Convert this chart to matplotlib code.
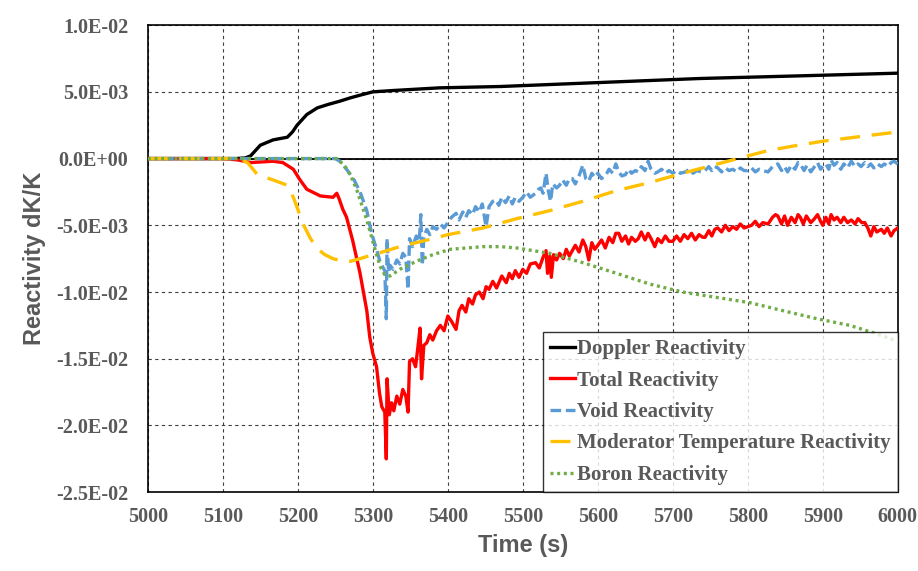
import matplotlib
matplotlib.use("Agg")
import matplotlib.pyplot as plt
from matplotlib.ticker import FuncFormatter, MultipleLocator

# values, in units of 1E-03 dK/K
doppler_t = [5000, 5118, 5130, 5137, 5150, 5167, 5186, 5193, 5199, 5212, 5226, 5240, 5256, 5270,
             5283, 5300, 5327, 5389, 5470, 5603, 5736, 5870, 6000]
doppler_v = [0, 0, 0.05, 0.2, 1.0, 1.4, 1.6, 2.0, 2.5, 3.3, 3.8, 4.05, 4.3, 4.55,
             4.75, 5.0, 5.1, 5.3, 5.4, 5.7, 6.0, 6.2, 6.4]

total_t = [5000, 5100, 5120, 5137, 5167, 5180, 5194, 5203, 5212, 5230, 5247, 5252, 5255, 5260,
           5265, 5273, 5283, 5292, 5296, 5300, 5305, 5309, 5312, 5316, 5318, 5319, 5322, 5325,
           5328, 5332, 5336, 5340, 5344, 5347, 5349, 5353, 5357, 5360, 5363, 5365, 5368, 5372,
           5376, 5380, 5385, 5390, 5395, 5400, 5405, 5411, 5415, 5419, 5424, 5428, 5433, 5437,
           5442, 5447, 5451, 5455, 5460, 5465, 5472, 5478, 5482, 5486, 5490, 5495, 5500, 5505,
           5510, 5517, 5522, 5527, 5531, 5533, 5536, 5538, 5541, 5545, 5549, 5554, 5558, 5562,
           5566, 5570, 5575, 5580, 5584, 5588, 5592, 5596, 5600, 5605, 5610, 5615, 5620, 5624,
           5628, 5632, 5637, 5641, 5645, 5650, 5654, 5658, 5663, 5667, 5671, 5676, 5680, 5685,
           5690, 5695, 5700, 5705, 5710, 5715, 5720, 5725, 5730, 5735, 5740, 5743, 5748, 5752,
           5756, 5760, 5765, 5770, 5775, 5780, 5785, 5790, 5795, 5800, 5805, 5810, 5815, 5820,
           5827, 5833, 5837, 5840, 5845, 5849, 5853, 5858, 5863, 5867, 5870, 5874, 5878, 5884,
           5889, 5893, 5897, 5900, 5904, 5908, 5911, 5915, 5919, 5924, 5928, 5933, 5938, 5943,
           5947, 5952, 5956, 5960, 5964, 5968, 5972, 5978, 5982, 5986, 5991, 5995, 6000]
total_v = [0, 0, -0.1, -0.3, -0.2, -0.3, -0.8, -1.6, -2.3, -2.8, -2.9, -2.6, -3.0, -3.8,
           -4.4, -6.1, -8.6, -11.4, -13.4, -14.6, -15.6, -17.6, -18.6, -19.0, -22.5, -16.5, -19.2, -18.3,
           -18.9, -17.8, -18.4, -17.3, -17.8, -19.0, -15.2, -15.0, -15.6, -14.2, -12.7, -16.5, -14.0, -13.8,
           -13.2, -13.6, -12.9, -12.5, -12.9, -11.8, -12.2, -12.8, -11.4, -11.0, -11.5, -10.5, -10.9, -10.2,
           -10.0, -10.5, -9.6, -9.8, -9.2, -9.7, -8.8, -9.3, -8.6, -9.0, -8.4, -8.9, -8.3, -8.6,
           -7.9, -7.8, -8.2, -7.4, -6.9, -8.6, -7.3, -8.9, -7.2, -7.6, -7.1, -7.5, -6.8, -7.3,
           -6.9, -6.5, -7.0, -6.1, -6.6, -7.6, -6.3, -6.8, -6.5, -6.1, -6.7, -5.9, -6.3, -5.6,
           -5.6, -6.2, -5.8, -6.4, -5.9, -6.2, -6.0, -5.5, -6.1, -5.6, -6.0, -6.6, -6.0, -6.3,
           -5.8, -6.2, -6.2, -5.8, -6.2, -5.7, -6.0, -5.6, -6.1, -5.7, -5.9, -5.9, -5.4, -5.8,
           -5.3, -5.2, -5.5, -5.0, -5.4, -5.1, -5.3, -4.9, -5.2, -5.1, -5.0, -4.7, -5.1, -4.8,
           -4.9, -4.4, -4.2, -4.3, -4.9, -4.3, -5.0, -4.4, -4.8, -4.2, -4.4, -4.9, -4.3, -4.8,
           -4.5, -4.2, -4.7, -5.0, -4.4, -4.9, -4.2, -4.6, -4.4, -4.8, -4.4, -4.8, -4.6, -4.9,
           -4.5, -4.8, -4.8, -5.2, -5.8, -5.1, -5.5, -5.3, -5.6, -5.2, -5.8, -5.4, -5.2]

void_t = [5000, 5250, 5256, 5265, 5275, 5283, 5292, 5296, 5300, 5305, 5309, 5313, 5316, 5318,
          5319, 5321, 5323, 5327, 5332, 5336, 5340, 5344, 5347, 5349, 5353, 5358, 5362, 5364,
          5366, 5368, 5372, 5376, 5380, 5385, 5390, 5395, 5400, 5405, 5411, 5415, 5420, 5424,
          5428, 5433, 5437, 5442, 5446, 5451, 5455, 5460, 5464, 5468, 5472, 5477, 5482, 5486,
          5490, 5495, 5500, 5505, 5510, 5517, 5521, 5524, 5527, 5531, 5534, 5537, 5540, 5545,
          5549, 5553, 5558, 5562, 5566, 5570, 5575, 5580, 5584, 5588, 5592, 5596, 5600, 5605,
          5611, 5615, 5620, 5624, 5628, 5632, 5637, 5641, 5645, 5650, 5654, 5658, 5663, 5667,
          5671, 5676, 5680, 5685, 5690, 5695, 5700, 5705, 5710, 5717, 5722, 5727, 5732, 5738,
          5743, 5748, 5752, 5756, 5760, 5765, 5770, 5775, 5780, 5785, 5790, 5795, 5800, 5805,
          5810, 5815, 5820, 5827, 5833, 5840, 5845, 5849, 5853, 5858, 5863, 5867, 5870, 5875,
          5879, 5884, 5889, 5893, 5897, 5900, 5904, 5908, 5911, 5915, 5919, 5924, 5928, 5933,
          5938, 5943, 5947, 5951, 5956, 5960, 5964, 5968, 5973, 5978, 5982, 5987, 5991, 5995, 6000]
void_v = [0, 0, -0.2, -0.8, -1.6, -2.5, -3.9, -5.0, -5.9, -6.8, -7.6, -8.1, -8.4, -12.0,
          -6.0, -8.5, -8.0, -8.3, -7.6, -7.9, -7.1, -7.4, -9.8, -6.0, -6.6, -5.8, -6.2, -4.2,
          -8.0, -5.9, -5.3, -5.7, -5.1, -5.3, -4.9, -5.2, -4.8, -4.4, -4.1, -4.6, -4.0, -4.4,
          -3.9, -4.2, -3.6, -4.0, -3.4, -5.1, -3.6, -3.2, -3.1, -3.5, -2.9, -3.3, -2.8, -3.4,
          -2.9, -3.2, -2.9, -2.5, -2.9, -2.6, -2.3, -2.2, -2.6, -1.1, -2.4, -3.2, -1.9, -2.2,
          -2.0, -1.6, -2.0, -1.5, -1.5, -1.9, -1.3, -0.5, -1.5, -1.7, -1.1, -1.4, -1.1, -1.5,
          -1.2, -0.8, -1.1, -0.4, -1.0, -1.3, -1.2, -0.8, -1.1, -0.9, -1.0, -0.6, -0.9, -0.2,
          -0.8, -1.1, -1.0, -0.8, -1.1, -0.9, -1.1, -0.9, -1.1, -1.0, -0.8, -1.1, -0.9, -1.0,
          -0.9, -0.6, -0.9, -0.6, -0.7, -1.0, -0.7, -0.9, -0.8, -1.0, -0.7, -0.9, -0.9, -0.7,
          -1.0, -0.8, -0.9, -1.0, -0.6, -0.4, -0.9, -0.6, -1.0, -0.5, -0.8, -0.3, -0.4, -0.9,
          -0.5, -1.0, -0.6, -0.3, -0.8, -0.6, -0.4, -0.8, -0.1, -0.5, -0.3, -0.8, -0.4, -0.7,
          -0.2, -0.6, -0.4, -0.6, -0.3, -0.6, -0.4, -0.7, -0.4, -0.6, -0.4, -0.6, -0.3, -0.2, -0.4]

moder_t = [5000, 5110, 5125, 5133, 5146, 5167, 5186, 5194, 5200, 5207, 5217, 5225, 5236, 5247,
           5260, 5270, 5283, 5300, 5313, 5336, 5358, 5380, 5400, 5447, 5492, 5536, 5580, 5625,
           5669, 5713, 5760, 5800, 5827, 5867, 5900, 5950, 6000]
moder_v = [0, 0, -0.1, -0.3, -1.2, -1.6, -2.0, -2.9, -3.8, -4.9, -6.0, -6.7, -7.2, -7.5,
           -7.7, -7.7, -7.5, -7.2, -7.0, -6.6, -6.3, -6.0, -5.7, -5.2, -4.5, -3.9, -3.2, -2.4,
           -1.8, -1.1, -0.4, 0.2, 0.6, 1.0, 1.3, 1.65, 2.0]

boron_t = [5000, 5252, 5262, 5270, 5279, 5286, 5292, 5300, 5305, 5310, 5316, 5323, 5336, 5358,
           5380, 5403, 5447, 5470, 5492, 5536, 5580, 5625, 5669, 5713, 5758, 5803, 5847, 5892,
           5936, 5970, 6000]
boron_v = [0, 0, -0.5, -1.2, -2.4, -3.6, -4.6, -6.2, -7.2, -8.1, -8.7, -8.8, -8.3, -7.7,
           -7.2, -6.8, -6.6, -6.6, -6.7, -7.1, -7.8, -8.6, -9.4, -10.0, -10.4, -10.8, -11.4, -12.0,
           -12.5, -13.1, -13.7]

labels = ["Doppler Reactivity", "Total Reactivity", "Void Reactivity",
          "Moderator Temperature Reactivity", "Boron Reactivity"]

gray = "#595959"
serif = ["Liberation Serif", "DejaVu Serif"]
sans = ["Liberation Sans", "DejaVu Sans"]

fig = plt.figure(figsize=(9.18, 5.71), dpi=100)
ax = fig.add_axes([0.161, 0.138, 0.817, 0.818])

def scaled(v):
    return [x * 1e-3 for x in v]

def sci(v, pos):
    if abs(v) < 1e-12:
        v = 0.0
    return f"{v:.1E}"

ax.axhline(0, color="black", lw=1.3, zorder=2)
ax.plot(doppler_t, scaled(doppler_v), color="black", lw=2.4, label=labels[0], zorder=3)
ax.plot(total_t, scaled(total_v), color="#FF0000", lw=2.4, label=labels[1], zorder=3)
ax.plot(void_t, scaled(void_v), color="#5B9BD5", lw=2.4, dashes=(3.2, 1.4), label=labels[2], zorder=3)
ax.plot(moder_t, scaled(moder_v), color="#FFC000", lw=2.4, dashes=(6, 3.5), label=labels[3], zorder=3)
ax.plot(boron_t, scaled(boron_v), color="#70AD47", lw=2.4, dashes=(0.9, 1.1), label=labels[4], zorder=3)

ax.set_xlim(5000, 6000)
ax.set_ylim(-0.025, 0.01)
ax.xaxis.set_major_locator(MultipleLocator(100))
ax.yaxis.set_major_locator(MultipleLocator(0.005))
ax.yaxis.set_major_formatter(FuncFormatter(sci))
ax.grid(True, color="#404040", lw=0.8, linestyle=(0, (3, 3)), zorder=1)
ax.set_axisbelow(True)
for s in ax.spines.values():
    s.set_linewidth(1.2)
    s.set_color("black")

ax.tick_params(axis="both", length=0)
ax.tick_params(axis="y", pad=14)
ax.tick_params(axis="x", pad=11)
for t in ax.get_xticklabels() + ax.get_yticklabels():
    t.set_fontfamily(serif)
    t.set_fontweight("bold")
    t.set_fontsize(14.5)
    t.set_color(gray)

ax.set_xlabel("Time (s)", fontsize=17, fontweight="bold", color=gray, family=sans, labelpad=5)
ax.set_ylabel("Reactivity dK/K", fontsize=17, fontweight="bold", color=gray, family=sans, labelpad=7)

leg = ax.legend(loc="lower right", bbox_to_anchor=(1, 0), borderaxespad=0, frameon=True,
                fancybox=False, handlelength=1.2, handletextpad=0.1, labelspacing=0.55,
                borderpad=0.35, prop={"family": serif, "weight": "bold", "size": 15})
leg.get_frame().set_edgecolor("black")
leg.get_frame().set_linewidth(1.0)
for t in leg.get_texts():
    t.set_color(gray)

fig.savefig("out.png", dpi=100)
